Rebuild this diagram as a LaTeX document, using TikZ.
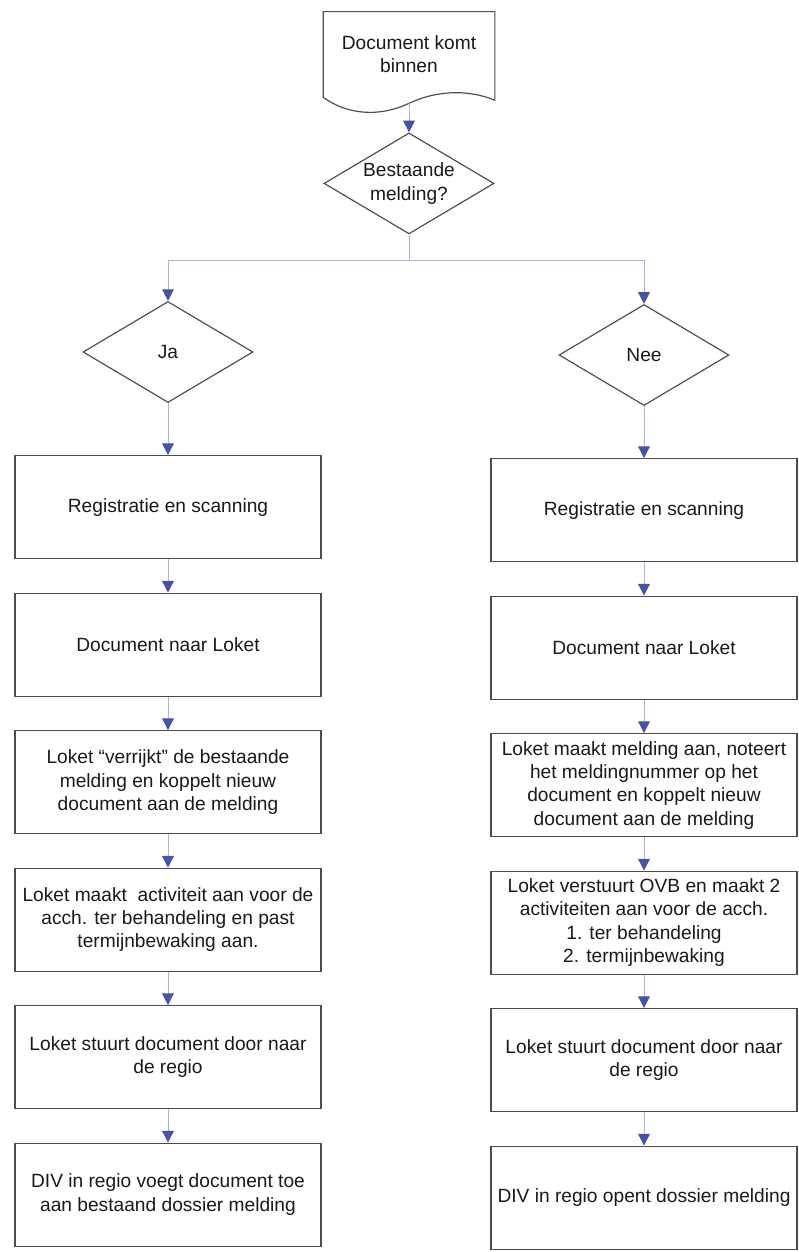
\documentclass[tikz,border=0pt]{standalone}
\usepackage{fontspec}
\setmainfont{Liberation Sans}
\usetikzlibrary{positioning,shapes.geometric,arrows.meta,calc}
\definecolor{linkline}{HTML}{A8B4E2}
\definecolor{tipblue}{HTML}{4652A8}

\begin{document}
\begin{tikzpicture}[x=0.6pt, y=-0.6pt, node distance={20pt},
	box/.style = {draw=black!70, line width=0.7pt, rectangle, minimum width=183.6pt, minimum height=61.8pt, inner sep=2pt, align=center, text=black!90, font=\fontsize{11.5}{14}\selectfont},
	dec/.style = {draw=black!70, line width=0.7pt, diamond, shape aspect=1.68, minimum width=102pt, minimum height=60.6pt, inner sep=0pt, align=center, text=black!90, font=\fontsize{11.5}{14}\selectfont},
	doc/.style = {rectangle, minimum width=102.6pt, minimum height=50.4pt, align=center, text=black!90, font=\fontsize{11.5}{14}\selectfont},
	arr/.style = {draw=linkline, line width=0.6pt, -{Triangle[length=7pt, width=7pt, color=tipblue]}},
	link/.style = {draw=linkline, line width=0.6pt}]
		\useasboundingbox (0,0) rectangle (799,1252);
		\node[doc] (0) at (409,54) {Document komt\\binnen};
		\draw[draw=black!70, line width=0.7pt] (0.north west) -- ($(0.south west)+(0,1)$) .. controls +(28,20) and +(-25,12) .. ($(0.south)+(0,7)$) .. controls +(25,-12) and +(-28,-12) .. ($(0.south east)+(0,4)$) -- (0.north east) -- cycle;
		\coordinate (0b) at ($(0.south)+(0,7)$);
		\node[dec] (1) [below=21.6pt of 0] {Bestaande\\melding?};
		\coordinate[below=15.6pt of 1] (s);
		\node[dec] (2) at (168,352) {Ja};
		\node[dec] (3) at (644,355) {Nee};
		% Ja
		\node[box] (4) [below=31.2pt of 2] {Registratie en scanning};
		\node[box] (5) [below=of 4] {Document naar Loket};
		\node[box] (6) [below=of 5] {Loket “verrijkt” de bestaande\\melding en koppelt nieuw\\document aan de melding};
		\node[box] (7) [below=of 6] {Loket maakt~ activiteit aan voor de\\acch. ter behandeling en past\\termijnbewaking aan.};
		\node[box] (8) [below=of 7] {Loket stuurt document door naar\\de regio};
		\node[box] (9) [below=of 8] {DIV in regio voegt document toe\\aan bestaand dossier melding};
		% Nee
		\node[box] (10) [below=31.2pt of 3] {Registratie en scanning};
		\node[box] (11) [below=of 10] {Document naar Loket};
		\node[box] (12) [below=of 11] {Loket maakt melding aan, noteert\\het meldingnummer op het\\document en koppelt nieuw\\document aan de melding};
		\node[box] (13) [below=of 12] {Loket verstuurt OVB en maakt 2\\activiteiten aan voor de acch.\\1. ter behandeling\\2. termijnbewaking};
		\node[box] (14) [below=of 13] {Loket stuurt document door naar\\de regio};
		\node[box] (15) [below=of 14] {DIV in regio opent dossier melding};
		\draw[arr] (0b) -- (1);
		\draw[link] (1) -- (s);
		\draw[arr] (s) -| (2);
		\draw[arr] (s) -| (3);
		\draw[arr] (2) -- (4);
		\draw[arr] (4) -- (5);
		\draw[arr] (5) -- (6);
		\draw[arr] (6) -- (7);
		\draw[arr] (7) -- (8);
		\draw[arr] (8) -- (9);
		\draw[arr] (3) -- (10);
		\draw[arr] (10) -- (11);
		\draw[arr] (11) -- (12);
		\draw[arr] (12) -- (13);
		\draw[arr] (13) -- (14);
		\draw[arr] (14) -- (15);
	\end{tikzpicture}
\end{document}
